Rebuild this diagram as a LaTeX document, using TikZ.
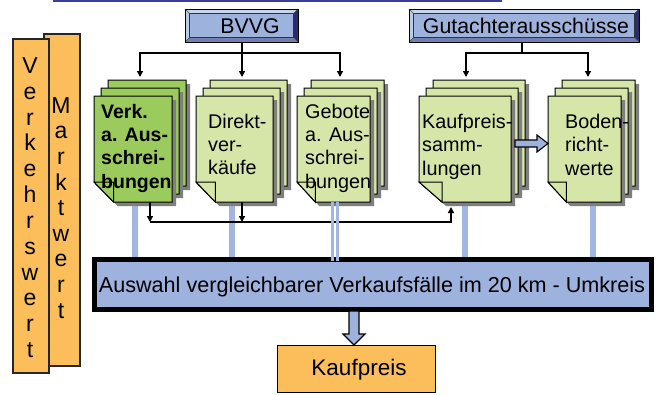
\documentclass[tikz,border=0pt]{standalone}
\usepackage{fontspec}
\setmainfont{Liberation Sans}
\usetikzlibrary{arrows.meta,calc}
\definecolor{topline}{HTML}{3C3C9A}
\definecolor{boxblue}{HTML}{9EB2DE}
\definecolor{barblue}{HTML}{A3B6E2}
\definecolor{bevlight}{HTML}{C9D4EE}
\definecolor{bevmid}{HTML}{7080B0}
\definecolor{bevdark}{HTML}{2A2C6E}
\definecolor{docdark}{HTML}{9BCB5C}
\definecolor{doclight}{HTML}{D5E6A8}
\definecolor{shadowgray}{HTML}{7F7F7F}
\definecolor{orangebox}{HTML}{FBBE5B}
\tikzset{
  conn/.style={line width=1.4pt, black},
  arr/.style={conn, -{Triangle[length=6pt,width=6pt]}},
  pageline/.style={draw=black, line width=1pt, line join=miter},
  doctext/.style={anchor=base west, inner sep=0pt, font=\fontsize{19.8}{23}\selectfont},
  coltext/.style={anchor=base, inner sep=0pt, font=\fontsize{23}{24}\selectfont},
  bigtext/.style={anchor=base, inner sep=0pt, font=\fontsize{21.3}{24}\selectfont},
  bar/.style={draw=barblue, line width=5.5pt},
  blockarrow/.style={fill=boxblue, draw=black, line width=1.1pt, line join=miter},
  column/.style={draw=black!85, line width=1.5pt, fill=orangebox, minimum width=36pt, inner sep=0pt, anchor=north west},
}
\newcommand\docpage[5]{%
  \begin{scope}[shift={(#1,#2)}]
    \fill[shadowgray] (4,4) -- (#3+4,4) -- (#3+4,#4+4) -- (0.25*#3+4,#4+4) -- (4,#4-16) -- cycle;
    \filldraw[pageline,fill=#5] (0,0) -- (#3,0) -- (#3,#4) -- (0.25*#3,#4) -- (0,#4-20) -- cycle;
    \filldraw[pageline,fill=#5] (0,#4-20) -- (0.25*#3,#4-20) -- (0.25*#3,#4) -- cycle;
  \end{scope}}
\newcommand\docstack[4]{%
  \docpage{#2+14}{80}{#3}{106}{#4}
  \docpage{#2+7}{88}{#3}{106}{#4}
  \docpage{#2}{96}{#3}{106}{#4}
  \node[inner sep=0pt, minimum width=#3pt, minimum height=106pt, anchor=north west] (#1) at (#2,96) {};}
\newcommand\bevelbox[5]{%
  \fill[bevlight] (#2,#3) -- (#4,#3) -- (#4-4.5,#3+4.5) -- (#2+4.5,#3+4.5) -- cycle;
  \fill[bevlight!70!boxblue] (#2,#3) -- (#2+4.5,#3+4.5) -- (#2+4.5,#5-4.5) -- (#2,#5) -- cycle;
  \fill[bevdark] (#4,#3) -- (#4,#5) -- (#4-4.5,#5-4.5) -- (#4-4.5,#3+4.5) -- cycle;
  \fill[bevmid] (#2,#5) -- (#4,#5) -- (#4-4.5,#5-4.5) -- (#2+4.5,#5-4.5) -- cycle;
  \draw[black!80, line width=0.6pt, fill=boxblue] (#2+4.5,#3+4.5) rectangle (#4-4.5,#5-4.5);
  \draw[black!70, line width=0.5pt] (#2,#3) -- (#2+4.5,#3+4.5) (#4,#3) -- (#4-4.5,#3+4.5)
     (#2,#5) -- (#2+4.5,#5-4.5) (#4,#5) -- (#4-4.5,#5-4.5);
  \node[draw=black, line width=1.2pt, inner sep=0pt, minimum width={#4-#2}, minimum height={#5-#3}, anchor=north west] (#1) at (#2,#3) {};}
\begin{document}
\begin{tikzpicture}[x=1pt,y=-1pt]
\useasboundingbox (0,0) rectangle (672,394);
% top rule
\draw[topline, line width=2pt] (53,0.8) -- (502,0.8);
% header boxes
\bevelbox{bvvg}{185}{9}{298}{42}
\node[bigtext] (bvvgt) at (250,33.3) {BVVG};
\bevelbox{gut}{409}{9}{639}{42}
\node[bigtext] (gutt) at (526,33) {Gutachterausschüsse};
% connectors from header boxes
\coordinate (j1) at (242,53);
\coordinate (j2) at (522,53);
\coordinate (t1) at (140,77);
\coordinate (t2) at (242,77);
\coordinate (t3) at (340,77);
\coordinate (t4) at (466,77);
\coordinate (t5) at (588,77);
\draw[conn] (bvvg.south -| j1) -- (j1);
\draw[arr] (j1) -| (t1);
\draw[arr] (j1) -- (t2);
\draw[arr] (j1) -| (t3);
\draw[conn] (gut.south -| j2) -- (j2);
\draw[arr] (j2) -| (t4);
\draw[arr] (j2) -| (t5);
% blue bars behind documents
\draw[bar] (135,190) -- (135,258);
\draw[bar] (232,190) -- (232,258);
\draw[bar] (465,190) -- (465,258);
\draw[bar] (593,190) -- (593,258);
% document stacks
\docstack{d1}{94}{78}{docdark}
\docstack{d2}{196}{77}{doclight}
\docstack{d3}{297}{73}{doclight}
\docstack{d4}{419}{92}{doclight}
\docstack{d5}{548}{73}{doclight}
% document texts
\foreach \t [count=\i from 0] in {Verk.,a. Aus-,schrei-,bungen}
  \node[doctext, font=\fontsize{19.5}{23}\selectfont\bfseries] (d1l\i) at (101,118+23.4*\i) {\t};
\foreach \t [count=\i from 0] in {Direkt-,ver-,käufe}
  \node[doctext] (d2l\i) at (208,128+23.3*\i) {\t};
\foreach \t [count=\i from 0] in {Gebote,a. Aus-,schrei-,bungen}
  \node[doctext] (d3l\i) at (305,118+23.4*\i) {\t};
\foreach \t [count=\i from 0] in {Kaufpreis-,samm-,lungen}
  \node[doctext] (d4l\i) at (422,128+23.5*\i) {\t};
\foreach \t [count=\i from 0] in {Boden-,richt-,werte}
  \node[doctext] (d5l\i) at (565,128+23.5*\i) {\t};
% block arrow between document stacks
\draw[blockarrow] (515,140) -- (537,140) -- (537,135) -- (548,143.5) -- (537,152) -- (537,147) -- (515,147) -- cycle;
% connectors below documents
\coordinate (b1) at (150,202);
\coordinate (b2) at (242,202);
\coordinate (b4) at (451,207);
\coordinate (h1) at (150,222);
\draw[arr] (b1) -- (h1);
\draw[arr] (b2) -- (b2 |- h1);
\draw[arr] (h1) -| (b4);
% main box
\node[draw=black, line width=5pt, fill=boxblue, minimum width=557pt, minimum height=50pt, inner sep=0pt] (main) at (373,284.5) {};
\node[bigtext, font=\fontsize{21.6}{24}\selectfont] (maint) at (372,292) {Auswahl vergleichbarer Verkaufsfälle im 20 km - Umkreis};
% double bar on top
\draw[barblue, line width=3pt] (332.5,202) -- (332.5,261);
\draw[barblue, line width=3pt] (337.5,202) -- (337.5,261);
% block arrow down and result
\draw[blockarrow] (349,311) -- (359,311) -- (359,334) -- (365,334) -- (354,345) -- (343,334) -- (349,334) -- cycle;
\node[draw=black, line width=1.2pt, fill=orangebox, minimum width=158pt, minimum height=47pt, inner sep=0pt, anchor=north west] (kp) at (277,345) {};
\node[bigtext, font=\fontsize{22.5}{24}\selectfont] (kpt) at (359,375) {Kaufpreis};
% left columns
\node[column, minimum height=332pt] (markt) at (43,33) {};
\foreach \c [count=\i from 0] in {M,a,r,k,t,w,e,r,t}
  \node[coltext] (mw\i) at (61,113.3+25.6*\i) {\c};
\node[column, minimum height=334pt] (verk) at (12,38) {};
\foreach \c [count=\i from 0] in {V,e,r,k,e,h,r,s,w,e,r,t}
  \node[coltext] (vw\i) at (30,73.3+25.85*\i) {\c};
\end{tikzpicture}
\end{document}
